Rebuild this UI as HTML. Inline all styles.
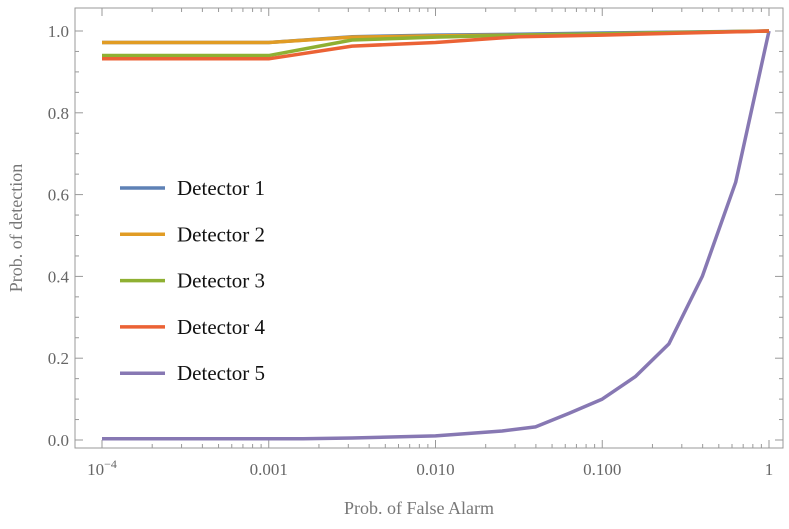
<!DOCTYPE html>
<html><head><meta charset="utf-8"><style>
body{margin:0;background:#fff}
svg{font-family:"Liberation Serif",serif}
</style></head><body>
<svg id="chart" width="789" height="524" xmlns="http://www.w3.org/2000/svg"></svg>
<script>
const xTicks=[0.0001,0.001,0.01,0.1,1];
const xTickLabels=["10","0.001","0.010","0.100","1"];
const yTicks=[0,0.2,0.4,0.6,0.8,1.0];
const yTickLabels=["0.0","0.2","0.4","0.6","0.8","1.0"];
const seriesNames=["Detector 1","Detector 2","Detector 3","Detector 4","Detector 5"];
const seriesColors=["#5E81B5","#E19C24","#8FB032","#EB6235","#8778B3"];
const pfaA=[0.0001,0.001,0.00316,0.01,0.0316,0.1,1];
const det1=[0.972,0.972,0.986,0.990,0.992,0.995,1.0];
const det2=[0.972,0.972,0.985,0.988,0.990,0.993,1.0];
const det3=[0.940,0.940,0.978,0.985,0.990,0.993,1.0];
const det4=[0.932,0.932,0.963,0.972,0.986,0.990,1.0];
const pfaB=[0.0001,0.001,0.0016,0.00316,0.01,0.0251,0.0398,0.0631,0.1,0.158,0.251,0.398,0.631,1];
const det5=[0.003,0.003,0.003,0.005,0.010,0.022,0.032,0.065,0.100,0.155,0.235,0.400,0.630,1.0];

const svg=document.getElementById('chart');
const NS="http://www.w3.org/2000/svg";
const L=75,R=783,T=8,B=448;
const X0=102,X1=769,Y0=440,Y1=31;
const xs=v=>X0+(Math.log10(v)+4)/4*(X1-X0);
const ys=v=>Y0+v*(Y1-Y0);
function mk(tag,attrs,parent){const e=document.createElementNS(NS,tag);for(const k in attrs)e.setAttribute(k,attrs[k]);(parent||svg).appendChild(e);return e;}

const frame=mk('rect',{x:L,y:T,width:R-L,height:B-T,fill:'none',stroke:'#999','stroke-width':1});



// x ticks incl minor
for(let d=-4;d<0;d++){for(let m=1;m<10;m++){const v=m*Math.pow(10,d);const x=xs(v);const len=m===1?8:4;
mk('line',{x1:x,y1:B,x2:x,y2:B-len,stroke:'#999'});mk('line',{x1:x,y1:T,x2:x,y2:T+len,stroke:'#999'});}}
mk('line',{x1:xs(1),y1:B,x2:xs(1),y2:B-8,stroke:'#999'});mk('line',{x1:xs(1),y1:T,x2:xs(1),y2:T+8,stroke:'#999'});
xTicks.forEach((v,i)=>{const t=mk('text',{x:xs(v),y:475,'text-anchor':'middle','font-size':17,fill:'#666'});t.textContent=xTickLabels[i];
if(i===0){const s=mk('tspan',{dy:-7,'font-size':12},t);s.textContent='−4';}

});
// y ticks
for(let k=0;k<=20;k++){const v=k*0.05;if(v>1.05)break;const y=ys(v);const len=k%4===0?8:4;
mk('line',{x1:L,y1:y,x2:L+len,y2:y,stroke:'#999'});mk('line',{x1:R,y1:y,x2:R-len,y2:y,stroke:'#999'});}
yTicks.forEach((v,i)=>{const t=mk('text',{x:L-6,y:ys(v)+6,'text-anchor':'end','font-size':17,fill:'#666'});t.textContent=yTickLabels[i];

});

const xt=mk('text',{x:(L+R)/2-10,y:514,'text-anchor':'middle','font-size':18,fill:'#777'});xt.textContent='Prob. of False Alarm';


const yt=mk('text',{x:0,y:0,'text-anchor':'middle','font-size':18,fill:'#777',transform:'translate(22,228) rotate(-90)'});yt.textContent='Prob. of detection';



const data=[[pfaA,det1],[pfaA,det2],[pfaA,det3],[pfaA,det4],[pfaB,det5]];
const order=[4,0,1,2,3];
order.forEach(i=>{const [xv,yv]=data[i];const p=mk('polyline',{points:xv.map((v,j)=>xs(v)+','+ys(yv[j])).join(' '),fill:'none',stroke:seriesColors[i],'stroke-width':3.5,'stroke-linejoin':'round'});

});

seriesNames.forEach((n,i)=>{const y=188+i*46.3;const g=mk('g',{});


mk('line',{x1:120,y1:y,x2:165,y2:y,stroke:seriesColors[i],'stroke-width':3.5},g);
const t=mk('text',{x:177,y:y+7,'font-size':21,fill:'#111'},g);t.textContent=n;});
</script>
</body></html>
